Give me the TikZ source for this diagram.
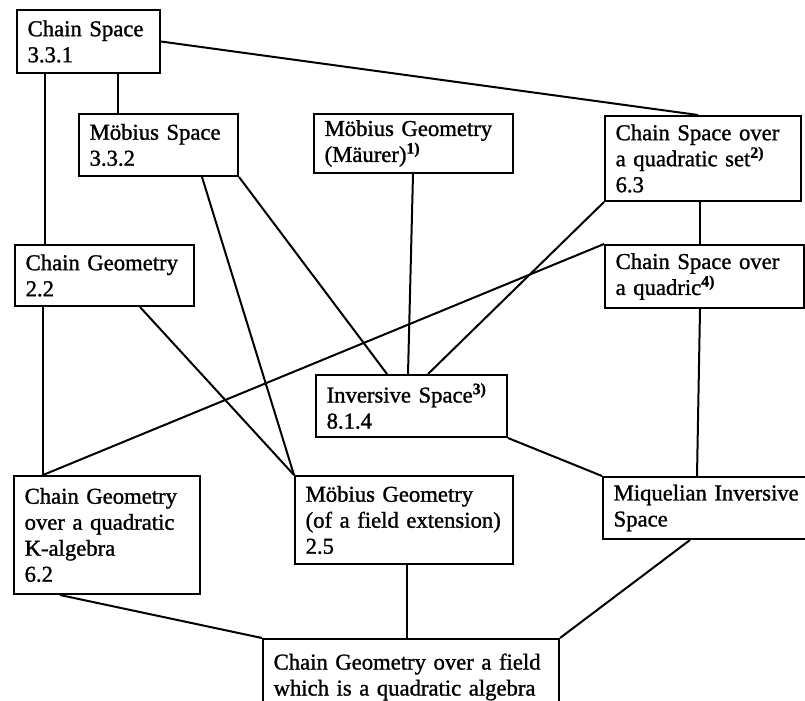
\documentclass[tikz,border=0pt]{standalone}
\usepackage{fontspec}
\setmainfont{Liberation Serif}[FakeBold=1.2]
\usetikzlibrary{calc}

\tikzset{every picture/.style={line width=1.5pt}}
\tikzset{
  box/.style={draw, anchor=north west, align=left, inner xsep=8pt, inner ysep=3pt,
    font=\fontsize{17}{19.5}\selectfont},
}
\newcommand{\fnote}[1]{\textsuperscript{\textbf{#1)}}}

\begin{document}
\begin{tikzpicture}[x=0.75pt,y=0.75pt,yscale=-1,xscale=1]
\useasboundingbox (0,0) rectangle (805,700);

% Boxes
\node[box, text width=91.25pt, minimum height=47.25pt] (cs331) at (16,9) {Chain Space\\3.3.1};
\node[box, text width=103.25pt, minimum height=46.5pt] (ms332) at (78,113) {Möbius Space\\3.3.2};
\node[box, text width=133.25pt, minimum height=44.25pt] (mgm) at (313,113) {Möbius Geometry\\(Mäurer)\fnote{1}};
\node[box, text width=131pt, minimum height=63.75pt] (csqs) at (604,115) {Chain Space over\\a quadratic set\fnote{2}\\6.3};
\node[box, text width=118.25pt, minimum height=45.75pt] (cg22) at (14,244) {Chain Geometry\\2.2};
\node[box, text width=133.25pt, minimum height=47.25pt] (csq) at (604,244) {Chain Space over\\a quadric\fnote{4}};
\node[box, text width=127.25pt, minimum height=46.5pt] (inv) at (315,374) {Inversive Space\fnote{3}\\8.1.4};
\node[box, text width=123.5pt, minimum height=88.5pt] (cgk) at (13,475) {Chain Geometry\\over a quadratic\\K-algebra\\6.2};
\node[box, text width=147.5pt, minimum height=66pt] (mfe) at (294,475) {Möbius Geometry\\(of a field extension)\\2.5};
\node[box, text width=156.5pt, minimum height=46.5pt] (miq) at (602,476) {Miquelian Inversive\\Space};
\node[box, text width=206pt, minimum height=57pt] (bot) at (262,638) {Chain Geometry over a field\\which is a quadratic algebra};

% Connecting lines
\draw (cs331.east) -- ($(csqs.north)+(-5,0)$);
\draw ($(cs331.south west)+(29,0)$) -- ($(cg22.north west)+(31,0)$);
\draw ($(cs331.south west)+(102,0)$) -- ($(ms332.north west)+(40,0)$);
\draw ($(ms332.south west)+(124,0)$) -- (mfe.north west);
\draw (ms332.south east) -- ($(inv.north west)+(72,0)$);
\draw ($(mgm.south west)+(100,0)$) -- ($(inv.north west)+(93,0)$);
\draw (csqs.south west) -- ($(inv.north west)+(113,0)$);
\draw ($(csqs.south west)+(96,0)$) -- ($(csq.north west)+(96,0)$);
\draw (csq.north west) -- ($(cgk.north west)+(30,0)$);
\draw ($(cg22.south west)+(29,0)$) -- ($(cgk.north west)+(30,0)$);
\draw ($(cg22.south west)+(126,0)$) -- (mfe.north west);
\draw ($(csq.south west)+(96,0)$) -- ($(miq.north west)+(95,0)$);
\draw (inv.south east) -- (miq.north west);
\draw ($(mfe.south west)+(113,0)$) -- ($(bot.north west)+(145,0)$);
\draw ($(cgk.south west)+(47,0)$) -- (bot.north west);
\draw ($(miq.south west)+(88,0)$) -- (bot.north east);
\end{tikzpicture}
\end{document}
